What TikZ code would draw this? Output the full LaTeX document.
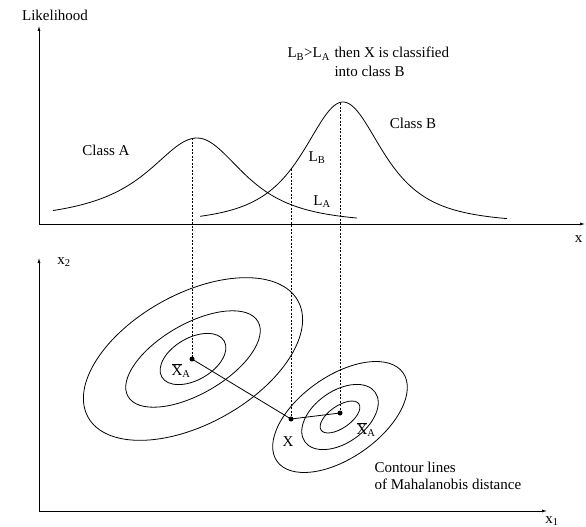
\documentclass[tikz,border=0pt]{standalone}
\usepackage{fontspec}
\setmainfont{Liberation Serif}
\usetikzlibrary{arrows.meta,positioning}
\newcommand{\lik}[1]{L\textsubscript{#1}}
\newcommand{\meanx}[1]{$\overline{\hbox{X}}$\textsubscript{#1}}

\begin{document}
\begin{tikzpicture}[x=1pt,y=-1pt,
  font=\fontsize{15}{17}\selectfont,
  axis/.style={line width=0.7pt,-{Latex[length=5pt,width=3pt]}},
  curve/.style={line width=0.8pt},
  guide/.style={line width=0.6pt,dash pattern=on 2pt off 1.5pt},
  contour/.style={line width=0.8pt}]
\useasboundingbox (0,0) rectangle (586,527);

% likelihood plot
\coordinate (o1) at (39,224);
\coordinate (ytop) at (39,26);
\coordinate (xend) at (585,224);
\draw[axis] (o1) -- (ytop);
\draw[axis] (o1) -- (xend);
\node (likelihood) at (55,15) {Likelihood};
\node[anchor=east] (xlab) at (586,239) {x};

% class A: heavier tail on the left
\draw[curve] plot[domain=53:197,samples=60] (\x,{224-86/(1+((\x-197)/62)^2)})
  -- plot[domain=197:357,samples=60] (\x,{224-86/(1+((\x-197)/72)^2)^1.5});
% class B
\draw[curve] plot[domain=200:507,samples=120] (\x,{224-122/(1+((\x-343)/62)^2)^1.5});

\node (classA) at (106,150) {Class A};
\node (classB) at (413,123) {Class B};
\node (LB) at (317,158) {\lik{B}};
\node (LA) at (322,202) {\lik{A}};
\node[anchor=base west] (rule) at (284,58) {\lik{B}>\lik{A}};
\node[anchor=base west] (then) at (331,58) {then X is classified};
\node[anchor=base west] (into) at (331,77) {into class B};

% feature plane
\coordinate (o2) at (39,511);
\coordinate (x2top) at (39,258);
\coordinate (x1end) at (547,511);
\draw[axis] (o2) -- (x2top);
\draw[axis] (o2) -- (x1end);
\node (x2lab) at (64,262) {x\textsubscript{2}};
\node (x1lab) at (552,521) {x\textsubscript{1}};

\coordinate (ca) at (193,359);
\draw[contour,rotate around={29:(ca)}] (ca) ellipse [x radius=120,y radius=65];
\draw[contour,rotate around={30:(ca)}] (ca) ellipse [x radius=75,y radius=35];
\draw[contour,rotate around={30:(ca)}] (ca) ellipse [x radius=36,y radius=21];

\coordinate (cb) at (340,417);
\draw[contour,rotate around={35:(cb)}] (cb) ellipse [x radius=77,y radius=41];
\draw[contour,rotate around={35:(cb)}] (cb) ellipse [x radius=43,y radius=26];
\draw[contour,rotate around={35:(cb)}] (cb) ellipse [x radius=23,y radius=11];

\coordinate (ma) at (192,359);
\coordinate (mb) at (340,413);
\coordinate (xp) at (291,419);
\coordinate (pa) at (192,138);
\coordinate (pb) at (340,103);
\coordinate (px) at (291,169);

\draw[guide] (pa) -- (ma);
\draw[guide] (pb) -- (mb);
\draw[guide] (px) -- (xp);
\draw[line width=0.8pt] (ma) -- (xp) -- (mb);
\fill (ma) circle (2.5);
\fill (mb) circle (2.5);
\fill (xp) circle (2.5);

\node (mean1) at (181,371) {\meanx{A}};
\node (mean2) at (366,430) {\meanx{A}};
\node (xname) at (288,442) {X};
\node[anchor=west,align=left] (contours) at (371,476) {Contour lines\\of Mahalanobis distance};
\end{tikzpicture}
\end{document}
